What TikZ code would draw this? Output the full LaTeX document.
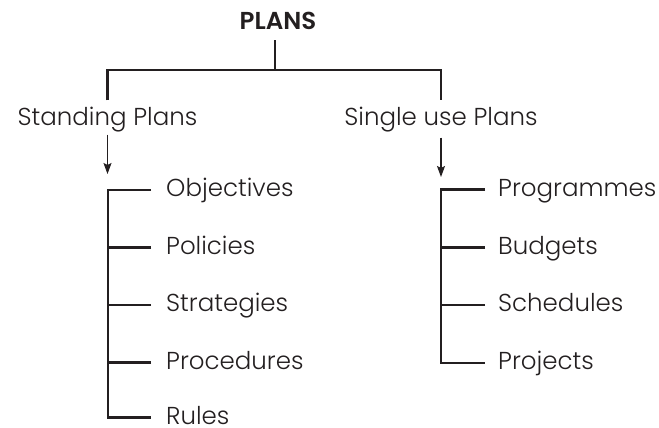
\documentclass[tikz,border=0pt]{standalone}
\usepackage{fontspec}
\setmainfont{Poppins}[UprightFont=*-Light,BoldFont=*-SemiBold]
\usetikzlibrary{arrows.meta,calc}
\definecolor{ink}{HTML}{231F20}
\tikzset{
  ln/.style={draw=ink,line width=2.4pt},
  arr/.style={draw=ink,line width=1.1pt,-{Stealth[length=11pt,width=8pt,inset=2pt]}},
  title/.style={inner sep=0pt,anchor=base,font=\fontsize{24.5}{28}\selectfont\bfseries,text=ink},
  head/.style={inner sep=0pt,font=\fontsize{24.5}{28}\selectfont,text=ink,text height=17pt,text depth=0pt},
  item/.style={inner sep=0pt,anchor=west,font=\fontsize{24.5}{28}\selectfont,text=ink,text height=13pt,text depth=0pt}
}
\begin{document}
\begin{tikzpicture}[x=1pt,y=-1pt]
\useasboundingbox (0,0) rectangle (659,428);
% title
\node[title] (plans) at (278,30) {PLANS};
\coordinate (bar) at (275,70);
% headings
\node[head] (sp) at (107.5,117) {Standing Plans};
\node[head] (sup) at (441,117) {Single use Plans};
\draw[ln] ([yshift=-10pt]plans.south -| bar) -- (bar);
\draw[ln] ([yshift=8pt]sp.north) |- (bar) -| ([yshift=8pt]sup.north);
% arrows
\coordinate (tipL) at (107.5,174);
\coordinate (tipR) at (441,177);
\draw[arr] ([yshift=-9pt]sp.south) -- (tipL);
\draw[arr] ([yshift=-12pt]sup.south) -- (tipR);
% left items
\node[item] (o1) at (166,190) {Objectives};
\node[item] (o2) at (166,247.5) {Policies};
\node[item] (o3) at (166,305) {Strategies};
\node[item] (o4) at (166,362.5) {Procedures};
\node[item] (o5) at (166,417.5) {Rules};
\draw[ln] ([xshift=-15pt]o1.west) -- ++(-43,0) |- ([xshift=-15pt]o5.west);
\foreach \n in {o2,o3,o4} \draw[ln] ([xshift=-15pt]\n.west) -- ++(-43,0);
% right items
\node[item] (p1) at (498,189.5) {Programmes};
\node[item] (p2) at (498,247.5) {Budgets};
\node[item] (p3) at (498,305) {Schedules};
\node[item] (p4) at (498,363) {Projects};
\draw[ln] ([xshift=-13pt]p1.west) -- ++(-44,0) |- ([xshift=-13pt]p4.west);
\foreach \n in {p2,p3} \draw[ln] ([xshift=-13pt]\n.west) -- ++(-44,0);
\end{tikzpicture}
\end{document}
